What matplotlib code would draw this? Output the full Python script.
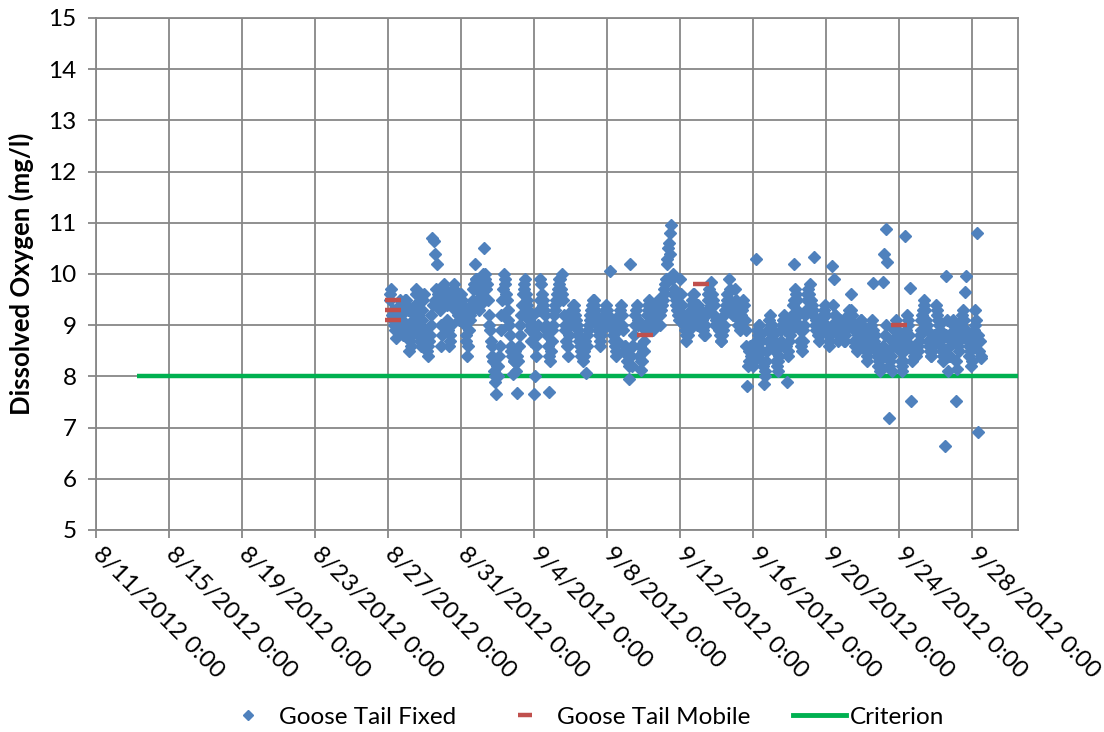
import numpy as np
import pandas as pd
import matplotlib
matplotlib.use("Agg")
import matplotlib.pyplot as plt
import matplotlib.dates as mdates
from matplotlib.lines import Line2D

plt.rcParams['font.family'] = ['Lato', 'DejaVu Sans']

# ---- Goose Tail Fixed: even-hour readings, one list per day ----
fixed_even = {
    "2012-08-27": [9.6, 9.7, 9.3, 9.0, 8.75, 8.9, 9.2, 9.4, 9.1, 8.8, 9.5],
    "2012-08-28": [9.5, 9.3, 8.5, 8.6, 8.9, 9.2, 9.7, 9.4, 9.0, 8.7, 9.1, 9.5],
    "2012-08-29": [8.9, 8.6, 8.4, 8.7, 9.0, 10.7, 10.65, 10.4, 10.2, 9.5, 9.3, 8.6],
    "2012-08-30": [9.4, 9.8, 9.6, 9.1, 8.6, 8.8, 9.5, 9.7, 9.3, 9.6, 9.2, 9.4],
    "2012-08-31": [9.6, 9.4, 9.1, 8.8, 8.4, 8.9, 9.2, 9.3, 9.7, 10.2, 9.9, 9.5],
    "2012-09-01": [9.3, 9.6, 9.9, 10.5, 10.0, 9.8, 9.2, 8.9, 8.6, 8.3, 8.0, 7.65],
    "2012-09-02": [8.0, 8.4, 8.9, 9.5, 10.0, 9.8, 9.5, 9.1, 8.8, 8.5, 8.05, 8.3],
    "2012-09-03": [8.1, 7.67, 8.6, 9.0, 9.4, 9.7, 9.9, 9.5, 9.3, 9.0, 8.7, 9.2],
    "2012-09-04": [7.65, 8.4, 8.8, 9.3, 9.9, 9.6, 9.4, 9.2, 8.9, 8.6, 7.7, 8.5],
    "2012-09-05": [8.9, 9.2, 9.4, 9.6, 9.8, 9.9, 10.0, 9.5, 9.0, 8.7, 8.4, 8.8],
    "2012-09-06": [9.1, 9.3, 9.4, 9.2, 9.0, 8.8, 8.6, 8.4, 8.3, 8.5, 8.07, 8.8],
    "2012-09-07": [9.0, 9.2, 9.4, 9.5, 9.3, 9.1, 8.9, 8.7, 8.8, 9.0, 9.2, 9.4],
    "2012-09-08": [9.3, 9.1, 10.05, 9.0, 8.8, 8.6, 8.4, 8.9, 9.2, 9.4, 9.0, 8.5],
    "2012-09-09": [8.6, 8.3, 7.95, 10.2, 8.2, 8.6, 9.0, 9.3, 9.1, 8.4, 8.12, 8.3],
    "2012-09-10": [8.5, 8.9, 9.2, 9.4, 9.3, 9.1, 8.9, 9.0, 9.2, 9.4, 9.3, 9.0],
    "2012-09-11": [9.4, 9.6, 9.8, 10.2, 10.5, 10.8, 10.96, 10.0, 9.7, 9.5, 9.3, 9.2],
    "2012-09-12": [9.9, 9.4, 9.1, 8.9, 8.7, 8.8, 9.0, 9.3, 9.5, 9.6, 9.2, 9.0],
    "2012-09-13": [9.4, 9.3, 9.1, 8.9, 8.8, 9.2, 9.5, 9.7, 9.85, 9.6, 9.4, 9.0],
    "2012-09-14": [9.1, 9.0, 8.8, 8.7, 8.9, 9.2, 9.4, 9.6, 9.9, 9.5, 9.3, 9.2],
    "2012-09-15": [9.7, 9.3, 9.0, 8.9, 9.2, 9.5, 9.4, 8.9, 7.81, 8.3, 8.6, 8.4],
    "2012-09-16": [8.2, 8.6, 10.3, 8.8, 9.0, 8.7, 8.3, 7.85, 8.1, 8.5, 8.9, 9.2],
    "2012-09-17": [9.0, 8.8, 8.6, 8.3, 8.1, 8.4, 8.7, 9.0, 9.2, 8.9, 7.89, 8.5],
    "2012-09-18": [8.8, 9.1, 9.4, 10.2, 9.6, 9.3, 9.0, 8.7, 8.5, 8.9, 9.2, 9.5],
    "2012-09-19": [9.7, 9.8, 9.5, 9.3, 10.33, 9.1, 8.9, 8.7, 8.8, 9.0, 9.2, 9.4],
    "2012-09-20": [9.0, 8.8, 8.6, 8.9, 10.15, 9.9, 9.2, 8.9, 8.7, 9.1, 9.0, 8.8],
    "2012-09-21": [8.7, 8.9, 9.1, 9.3, 9.6, 9.2, 8.9, 8.6, 8.5, 8.8, 9.0, 9.1],
    "2012-09-22": [8.9, 8.7, 8.5, 8.3, 8.6, 8.9, 9.1, 9.83, 8.8, 8.5, 8.2, 8.1],
    "2012-09-23": [8.15, 9.85, 10.4, 10.88, 10.23, 7.19, 8.3, 8.1, 8.6, 8.9, 9.1, 8.8],
    "2012-09-24": [8.6, 8.3, 8.1, 8.5, 10.74, 9.2, 9.0, 9.73, 7.52, 8.5, 8.6, 8.4],
    "2012-09-25": [8.5, 8.7, 8.9, 9.2, 9.5, 9.3, 9.0, 8.7, 8.5, 8.4, 8.6, 8.8],
    "2012-09-26": [9.4, 9.2, 9.0, 8.7, 8.5, 8.3, 6.64, 9.96, 8.1, 8.4, 8.7, 9.0],
    "2012-09-27": [8.9, 7.52, 8.15, 8.5, 8.8, 9.1, 9.3, 9.65, 9.96, 8.7, 8.4, 8.2],
    "2012-09-28": [8.6, 8.9, 9.3, 10.8, 6.91, 8.7, 8.35],
}

# ---- Goose Tail Fixed: odd-hour readings, one list per day ----
fixed_odd = {
    "2012-08-27": [9.5, 9.2, 9.1, 8.9, 9.0, 9.3, 9.5, 9.2, 8.9, 9.3, 9.4],
    "2012-08-28": [9.4, 9.0, 8.7, 8.8, 9.1, 9.4, 9.6, 9.2, 8.8, 8.6, 9.3, 9.6],
    "2012-08-29": [8.8, 8.5, 8.6, 8.8, 9.2, 9.4, 9.5, 9.7, 9.6, 9.4, 9.0, 8.8],
    "2012-08-30": [9.5, 9.7, 9.4, 8.9, 8.7, 9.0, 9.6, 9.8, 9.4, 9.5, 9.1, 9.3],
    "2012-08-31": [9.5, 9.3, 9.0, 8.7, 8.6, 9.1, 9.4, 9.5, 9.8, 9.9, 9.7, 9.4],
    "2012-09-01": [9.4, 9.7, 10.0, 9.9, 9.7, 9.5, 9.0, 8.7, 8.4, 8.1, 7.9, 8.2],
    "2012-09-02": [8.2, 8.6, 9.2, 9.7, 9.9, 9.6, 9.3, 9.0, 8.6, 8.4, 8.3, 8.5],
    "2012-09-03": [8.4, 8.3, 8.8, 9.2, 9.6, 9.8, 9.6, 9.4, 9.1, 8.9, 8.9, 9.0],
    "2012-09-04": [8.0, 8.6, 9.0, 9.5, 9.8, 9.5, 9.3, 9.0, 8.8, 8.4, 8.3, 8.7],
    "2012-09-05": [9.0, 9.3, 9.5, 9.7, 9.9, 9.7, 9.6, 9.2, 8.9, 8.6, 8.6, 9.0],
    "2012-09-06": [9.2, 9.4, 9.3, 9.1, 8.9, 8.7, 8.5, 8.6, 8.4, 8.7, 8.6, 8.9],
    "2012-09-07": [9.1, 9.3, 9.5, 9.4, 9.2, 9.0, 8.8, 8.6, 8.9, 9.1, 9.3, 9.2],
    "2012-09-08": [9.2, 9.0, 9.1, 8.9, 8.7, 8.5, 8.7, 9.0, 9.3, 9.2, 8.9, 8.6],
    "2012-09-09": [8.5, 8.4, 8.2, 8.4, 8.6, 8.8, 9.2, 9.4, 9.0, 8.6, 8.3, 8.5],
    "2012-09-10": [8.7, 9.0, 9.3, 9.5, 9.2, 9.0, 9.0, 9.1, 9.3, 9.5, 9.2, 9.3],
    "2012-09-11": [9.5, 9.7, 9.9, 10.3, 10.6, 10.4, 9.9, 9.6, 9.6, 9.4, 9.2, 9.1],
    "2012-09-12": [9.6, 9.2, 9.0, 8.8, 8.8, 8.9, 9.1, 9.4, 9.6, 9.4, 9.1, 9.3],
    "2012-09-13": [9.3, 9.2, 9.0, 8.8, 9.0, 9.3, 9.6, 9.5, 9.4, 9.5, 9.2, 9.1],
    "2012-09-14": [9.0, 8.9, 8.7, 8.8, 9.0, 9.3, 9.5, 9.4, 9.7, 9.3, 9.2, 9.4],
    "2012-09-15": [9.5, 9.2, 9.1, 9.0, 9.3, 9.4, 9.1, 8.6, 8.2, 8.5, 8.4, 8.3],
    "2012-09-16": [8.4, 8.7, 8.9, 9.0, 8.8, 8.5, 8.2, 8.0, 8.3, 8.7, 9.1, 9.0],
    "2012-09-17": [8.9, 8.7, 8.5, 8.2, 8.3, 8.6, 8.9, 9.1, 9.0, 8.6, 8.4, 8.7],
    "2012-09-18": [8.9, 9.2, 9.5, 9.7, 9.5, 9.2, 8.9, 8.6, 8.7, 9.0, 9.3, 9.6],
    "2012-09-19": [9.6, 9.5, 9.4, 9.2, 9.0, 8.9, 8.8, 8.9, 9.1, 9.0, 9.3, 9.2],
    "2012-09-20": [8.9, 8.7, 8.8, 9.0, 9.4, 9.2, 9.0, 8.8, 8.9, 9.0, 8.9, 8.7],
    "2012-09-21": [8.8, 9.0, 9.2, 9.1, 9.3, 9.0, 8.7, 8.6, 8.7, 8.9, 9.1, 9.0],
    "2012-09-22": [8.8, 8.6, 8.4, 8.5, 8.7, 9.0, 8.9, 8.7, 8.6, 8.4, 8.3, 8.2],
    "2012-09-23": [8.4, 8.6, 8.8, 9.0, 8.5, 8.2, 8.4, 8.7, 8.9, 9.0, 8.9, 8.6],
    "2012-09-24": [8.5, 8.2, 8.3, 8.7, 8.9, 9.1, 8.8, 8.6, 8.3, 8.4, 8.5, 8.6],
    "2012-09-25": [8.6, 8.8, 9.1, 9.3, 9.4, 9.1, 8.9, 8.6, 8.4, 8.5, 8.7, 8.7],
    "2012-09-26": [9.3, 9.1, 8.9, 8.6, 8.4, 8.5, 8.8, 9.1, 8.4, 8.6, 8.8, 9.1],
    "2012-09-27": [8.7, 8.3, 8.6, 8.7, 9.0, 9.2, 9.1, 8.9, 8.8, 8.6, 8.5, 8.3],
    "2012-09-28": [8.7, 9.0, 9.1, 8.8, 8.5, 8.4],
}

# ---- Goose Tail Mobile ----
mobile_times = ["2012-08-27 06:00", "2012-08-27 06:00", "2012-08-27 06:00",
                "2012-09-10 02:00", "2012-09-13 03:30", "2012-09-24 00:00"]
mobile_values = [9.5, 9.3, 9.1, 8.8, 9.8, 9.0]

# ---- Criterion ----
criterion_times = ["2012-08-13 06:00", "2012-10-01 00:00"]
criterion_values = [8.0, 8.0]

tick_dates = ["2012-08-11", "2012-08-15", "2012-08-19", "2012-08-23", "2012-08-27",
              "2012-08-31", "2012-09-04", "2012-09-08", "2012-09-12", "2012-09-16",
              "2012-09-20", "2012-09-24", "2012-09-28"]


def build(days, first_hour, other_hour):
    xs, ys = [], []
    for day, vals in days.items():
        h0 = first_hour if day == "2012-08-27" else other_hour
        start = pd.Timestamp(day) + pd.Timedelta(hours=h0)
        for i, v in enumerate(vals):
            xs.append(start + pd.Timedelta(hours=2 * i))
            ys.append(v)
    return xs, ys


ex, ey = build(fixed_even, 2, 0)
ox, oy = build(fixed_odd, 3, 1)
fx = ex + ox
fy = ey + oy

fig = plt.figure(figsize=(11.04, 7.32), dpi=100)
ax = fig.add_axes([96/1104, 1 - 530/732, (1018-96)/1104, (530-18)/732])

grid_c = '#878787'
blue = '#4F81BD'
red = '#C0504D'
green = '#00B050'
ax.plot(pd.to_datetime(criterion_times), criterion_values, color=green, lw=3.2,
        solid_capstyle='butt', zorder=3)
ax.plot(fx, fy, linestyle='none', marker='D', ms=6.3, color=blue, mec=blue, zorder=4)
ax.plot(pd.to_datetime(mobile_times), mobile_values, linestyle='none', marker='_',
        ms=11, mew=3.2, color=red, zorder=5)

ax.set_xlim(pd.Timestamp("2012-08-11"), pd.Timestamp("2012-09-30 12:00"))
ax.set_ylim(5, 15)
ax.set_yticks(range(5, 16))
ax.set_xticks(pd.to_datetime(tick_dates))
ax.xaxis.set_major_formatter(mdates.DateFormatter('%-m/%-d/%Y 0:00'))
ax.grid(True, color=grid_c, lw=1.3)
ax.set_axisbelow(True)
for s in ax.spines.values():
    s.set_color(grid_c)
    s.set_linewidth(1.3)
ax.tick_params(axis='both', colors=grid_c, length=6, width=1.3, labelcolor='black',
               labelsize=17.5)
ax.tick_params(axis='x', pad=9, labelsize=17.5)
ax.tick_params(axis='y', pad=8)
for lab in ax.get_xticklabels():
    lab.set_rotation(-45)
    lab.set_ha('left')
    lab.set_va('center')
    lab.set_rotation_mode('anchor')

ax.set_ylabel('Dissolved Oxygen (mg/l)', fontsize=18.5, fontweight='bold', labelpad=10)

handles = [
    Line2D([], [], linestyle='none', marker='D', ms=5, color=blue),
    Line2D([], [], linestyle='none', marker='_', ms=10, mew=3.2, color=red),
    Line2D([], [], color=green, lw=3.5),
]
labels = ['Goose Tail Fixed', 'Goose Tail Mobile', 'Criterion']
leg = fig.legend(handles, labels, loc='center',
                 bbox_to_anchor=(583/1104, 1 - 717/732), ncol=3, frameon=False,
                 fontsize=17.5, handlelength=2.18, columnspacing=1.75, handletextpad=0.2)

fig.savefig('out.png', dpi=100)
